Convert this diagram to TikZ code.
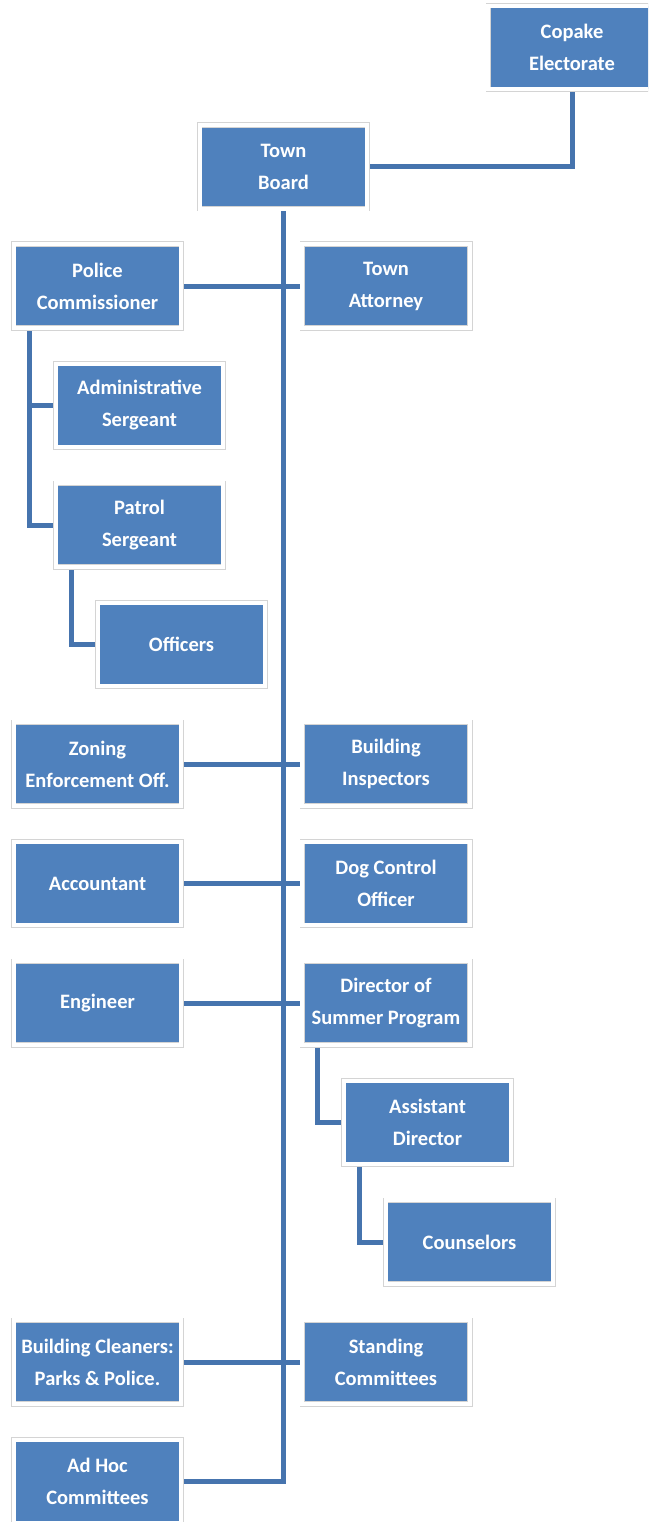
\documentclass[tikz,border=0pt]{standalone}
\usepackage{fontspec}
\setmainfont{Carlito}
\usetikzlibrary{backgrounds}
\definecolor{boxfill}{HTML}{4F81BD}
\definecolor{wire}{HTML}{4674AE}
\definecolor{frame}{HTML}{D4D4D4}
\newcommand{\boxfont}{\fontsize{20.5}{32}\selectfont\bfseries}

\begin{document}
\begin{tikzpicture}[x=1pt,y=-1pt,
  unit/.style={fill=boxfill,draw=frame,double=white,double distance=4pt,line width=0.7pt,
    minimum width=167.6pt,minimum height=83.6pt,inner sep=0,align=center,text=white,font=\boxfont},
  conn/.style={draw=wire,line width=5pt}]
\useasboundingbox (0,0) rectangle (648,1522);
\clip (0,0) rectangle (648,1522);
% top of the chart
\node[unit] (copake) at (572,47.5) {Copake\\Electorate};
\node[unit] (board) at (283.5,167) {Town\\Board};
% police
\node[unit] (police) at (97.5,286) {Police\\Commissioner};
\node[unit] (attorney) at (386,286) {Town\\Attorney};
\node[unit] (adminsgt) at (139.5,405.5) {Administrative\\Sergeant};
\node[unit] (patrol) at (139.5,525) {Patrol\\Sergeant};
\node[unit] (officers) at (181.5,644.5) {Officers};
% offices along the trunk
\node[unit] (zoning) at (97.5,764) {Zoning\\Enforcement Off.};
\node[unit] (inspectors) at (386,764) {Building\\Inspectors};
\node[unit] (accountant) at (97.5,883.5) {Accountant};
\node[unit] (dogctrl) at (386,883.5) {Dog Control\\Officer};
\node[unit] (engineer) at (97.5,1003) {Engineer};
\node[unit] (director) at (386,1003) {Director of\\Summer Program};
\node[unit] (assistant) at (427.5,1122.5) {Assistant\\Director};
\node[unit] (counselors) at (469.5,1242) {Counselors};
\node[unit] (cleaners) at (97.5,1362) {Building Cleaners:\\Parks \& Police.};
\node[unit] (standing) at (386,1362) {Standing\\Committees};
\node[unit] (adhoc) at (97.5,1481.5) {Ad Hoc\\Committees};
\begin{scope}[on background layer]
\draw[conn] (copake.south) |- (board.east);
\draw[conn] (board.south) |- (adhoc.east);
\draw[conn] (police.east) -- (attorney.west);
\draw[conn] (zoning.east) -- (inspectors.west);
\draw[conn] (accountant.east) -- (dogctrl.west);
\draw[conn] (engineer.east) -- (director.west);
\draw[conn] (cleaners.east) -- (standing.west);
\draw[conn] ([xshift=16pt]police.south west) |- (adminsgt.west);
\draw[conn] ([xshift=16pt]police.south west) |- (patrol.west);
\draw[conn] ([xshift=16pt]patrol.south west) |- (officers.west);
\draw[conn] ([xshift=16pt]director.south west) |- (assistant.west);
\draw[conn] ([xshift=16pt]assistant.south west) |- (counselors.west);
\end{scope}
\end{tikzpicture}
\end{document}
